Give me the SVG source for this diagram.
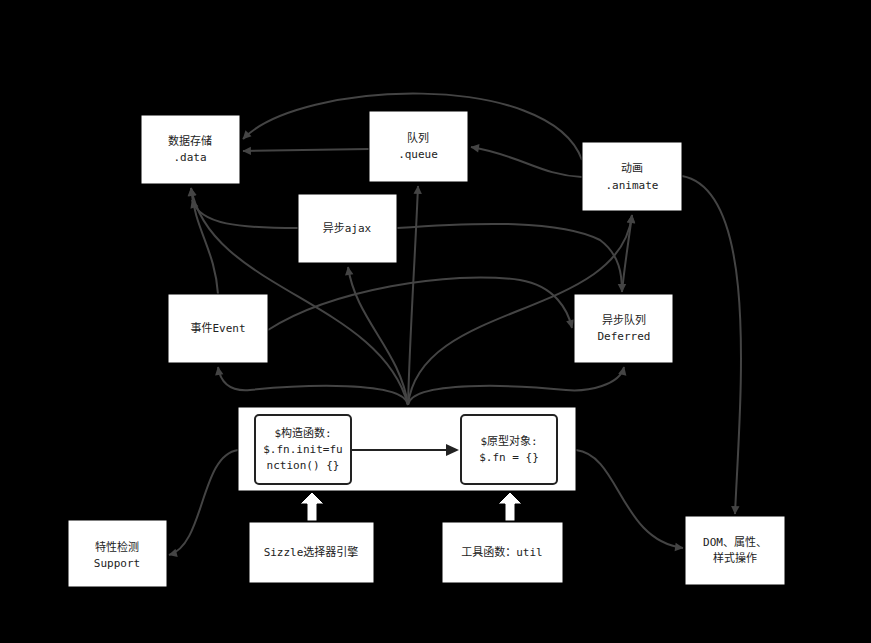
<svg xmlns="http://www.w3.org/2000/svg" width="871" height="643" viewBox="0 0 871 643">
<defs>
<marker id="ah" viewBox="0 0 10 10" refX="9" refY="5" markerWidth="6" markerHeight="6" orient="auto" markerUnits="userSpaceOnUse" style="overflow:visible">
<path d="M0,0 L10,5 L0,10 z" fill="#444" transform="scale(1.4) translate(-3,-1.4)"/>
</marker>
<style>
.n{fill:#fff;stroke:#000;stroke-width:1}
.c{fill:none;stroke:#444;stroke-width:2;marker-end:url(#ah)}
text{font-family:"DejaVu Sans Mono","Noto Sans CJK SC",monospace;font-size:11px;fill:#222;text-anchor:middle}
</style>
</defs>
<rect width="871" height="643" fill="#000"/>
<g id="connectors">
<path class="c" d="M408,405 C405,380 300,385 250,390 C228,392 220,380 218,367"/>
<path class="c" d="M408,405 C411,380 516,385 566,390 C588,392 620,385 624,367"/>
<path class="c" d="M408,405 C400,350 356,320 348,267"/>
<path class="c" d="M408,405 C410,330 415,260 418,186"/>
<path class="c" d="M408,405 C380,300 210,290 191,188"/>
<path class="c" d="M408,405 C420,300 620,320 632,215"/>
<path class="c" d="M218,294 C215,250 195,230 191,188"/>
<path class="c" d="M268,330 C330,290 450,270 520,280 C555,286 568,310 572,328"/>
<path class="c" d="M298,228 C240,228 200,225 192,200"/>
<path class="c" d="M397,228 C480,222 560,220 600,240 C620,255 622,275 622,292"/>
<path class="c" d="M622,292 C624,270 628,245 632,215"/>
<path class="c" d="M582,177 C540,175 520,155 471,147"/>
<path class="c" d="M369,149 L243,151"/>
<path class="c" d="M582,160 C550,70 300,80 243,139"/>
<path class="c" d="M682,176 C760,190 740,400 735,514"/>
<path class="c" d="M576,450 C620,455 620,540 683,548"/>
<path class="c" d="M238,450 C200,455 205,545 169,555"/>
</g>
<g id="core">
<rect class="n" x="238" y="407" width="338" height="84"/>
<g id="ctor"><rect x="255" y="415" width="96" height="69" rx="4" fill="#fff" stroke="#222" stroke-width="2"/>
<text x="303" y="437">$构造函数:</text><text x="303" y="453">$.fn.init=fu</text><text x="303" y="469">nction() {}</text></g>
<g id="proto"><rect x="461" y="415" width="96" height="69" rx="4" fill="#fff" stroke="#222" stroke-width="2"/>
<text x="509" y="445">$原型对象:</text><text x="509" y="461">$.fn = {}</text></g>
<path d="M352,450 L457,450" stroke="#222" stroke-width="2" fill="none"/>
<path d="M459,450 L446,444 L446,456 z" fill="#222"/>
</g>
<g id="blockarrows" fill="#fff" stroke="#000" stroke-width="1">
<path d="M307,521 L307,504 L300,504 L312,492 L324,504 L317,504 L317,521 z"/>
<path d="M505,521 L505,504 L498,504 L510,492 L522,504 L515,504 L515,521 z"/>
</g>
<g id="data"><rect class="n" x="141" y="115" width="99" height="69"/><text x="190" y="145">数据存储</text><text x="190" y="161">.data</text></g>
<g id="queue"><rect class="n" x="369" y="111" width="99" height="71"/><text x="418" y="142">队列</text><text x="418" y="158">.queue</text></g>
<g id="animate"><rect class="n" x="582" y="142" width="100" height="69"/><text x="632" y="172">动画</text><text x="632" y="189">.animate</text></g>
<g id="ajax"><rect class="n" x="298" y="194" width="99" height="69"/><text x="347" y="232">异步ajax</text></g>
<g id="event"><rect class="n" x="168" y="294" width="100" height="69"/><text x="218" y="332">事件Event</text></g>
<g id="deferred"><rect class="n" x="574" y="294" width="99" height="69"/><text x="624" y="324">异步队列</text><text x="624" y="340">Deferred</text></g>
<g id="support"><rect class="n" x="68" y="520" width="99" height="67"/><text x="117" y="551">特性检测</text><text x="117" y="567">Support</text></g>
<g id="sizzle"><rect class="n" x="249" y="522" width="125" height="61"/><text x="311" y="556">Sizzle选择器引擎</text></g>
<g id="util"><rect class="n" x="442" y="522" width="121" height="61"/><text x="502" y="556">工具函数：util</text></g>
<g id="dom"><rect class="n" x="685" y="516" width="100" height="69"/><text x="735" y="546">DOM、属性、</text><text x="735" y="562">样式操作</text></g>
</svg>
